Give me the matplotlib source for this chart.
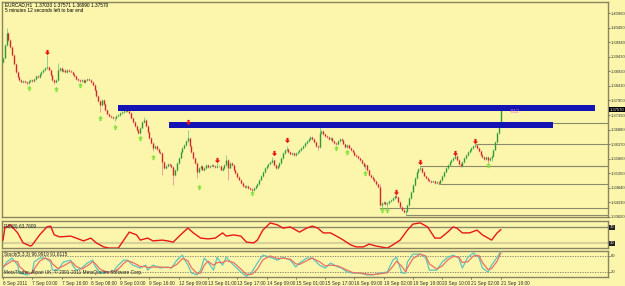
import matplotlib
matplotlib.use('Agg')
import matplotlib.pyplot as plt
import matplotlib.transforms as mtransforms
from matplotlib.path import Path
import numpy as np

# ---------------- data ----------------
first_open = 1.3925
closes = [
    1.3939, 1.3984, 1.4026, 1.4002, 1.3977, 1.3949, 1.3918, 1.3890, 1.3872, 1.3862,
    1.3855, 1.3858, 1.3855, 1.3851, 1.3858, 1.3862, 1.3858, 1.3865, 1.3876, 1.3872,
    1.3883, 1.3890, 1.3897, 1.3904, 1.3907, 1.3897, 1.3879, 1.3862, 1.3855, 1.3862,
    1.3897, 1.3904, 1.3893, 1.3897, 1.3890, 1.3897, 1.3893, 1.3890, 1.3883, 1.3876,
    1.3865, 1.3862, 1.3858, 1.3862, 1.3855, 1.3862, 1.3865, 1.3862, 1.3855, 1.3844,
    1.3827, 1.3806, 1.3788, 1.3774, 1.3792, 1.3778, 1.3757, 1.3743, 1.3736, 1.3732,
    1.3729, 1.3729, 1.3736, 1.3739, 1.3746, 1.3750, 1.3753, 1.3757, 1.3753, 1.3746,
    1.3729, 1.3715, 1.3701, 1.3687, 1.3676, 1.3694, 1.3715, 1.3722, 1.3701, 1.3680,
    1.3659, 1.3641, 1.3624, 1.3631, 1.3620, 1.3610, 1.3606, 1.3575, 1.3554, 1.3561,
    1.3568, 1.3564, 1.3557, 1.3529, 1.3547, 1.3571, 1.3589, 1.3610, 1.3624, 1.3634,
    1.3648, 1.3659, 1.3631, 1.3610, 1.3589, 1.3571, 1.3540, 1.3554, 1.3561, 1.3547,
    1.3554, 1.3564, 1.3557, 1.3561, 1.3564, 1.3561, 1.3557, 1.3561, 1.3561, 1.3547,
    1.3554, 1.3564, 1.3582, 1.3554, 1.3571, 1.3564, 1.3547, 1.3536, 1.3522, 1.3512,
    1.3501, 1.3491, 1.3487, 1.3491, 1.3484, 1.3480, 1.3477, 1.3484, 1.3491, 1.3498,
    1.3512, 1.3526, 1.3540, 1.3554, 1.3561, 1.3568, 1.3575, 1.3582, 1.3564, 1.3554,
    1.3561, 1.3571, 1.3589, 1.3606, 1.3617, 1.3620, 1.3610, 1.3603, 1.3606, 1.3599,
    1.3606, 1.3610, 1.3617, 1.3624, 1.3631, 1.3641, 1.3648, 1.3655, 1.3662, 1.3655,
    1.3645, 1.3631, 1.3627, 1.3676, 1.3683, 1.3673, 1.3666, 1.3662, 1.3655, 1.3659,
    1.3648, 1.3641, 1.3638, 1.3648, 1.3655, 1.3652, 1.3638, 1.3627, 1.3634, 1.3624,
    1.3617, 1.3610, 1.3599, 1.3596, 1.3589, 1.3582, 1.3571, 1.3561, 1.3564, 1.3547,
    1.3529, 1.3522, 1.3515, 1.3508, 1.3498, 1.3487, 1.3424, 1.3431, 1.3435, 1.3428,
    1.3431, 1.3438, 1.3442, 1.3449, 1.3456, 1.3452, 1.3435, 1.3417, 1.3407, 1.3400,
    1.3403, 1.3424, 1.3449, 1.3470, 1.3494, 1.3519, 1.3540, 1.3550, 1.3554, 1.3540,
    1.3526, 1.3519, 1.3512, 1.3508, 1.3505, 1.3508, 1.3501, 1.3505, 1.3501, 1.3512,
    1.3526, 1.3540, 1.3554, 1.3564, 1.3575, 1.3582, 1.3589, 1.3596, 1.3582, 1.3568,
    1.3561, 1.3575, 1.3589, 1.3599, 1.3610, 1.3617, 1.3624, 1.3631, 1.3634, 1.3624,
    1.3613, 1.3599, 1.3592, 1.3585, 1.3592, 1.3582, 1.3589, 1.3596, 1.3617, 1.3645,
    1.3676, 1.3704, 1.3757,
]
# wick lengths in pips above body top / below body bottom
upper_wick = [
    3, 4, 17, 3, 2, 3, 4, 2, 3, 3, 4, 3, 2, 4, 3, 3, 4, 2, 3, 4,
    3, 2, 4, 3, 42, 3, 2, 3, 4, 3, 25, 3, 4, 2, 3, 4, 3, 2, 3, 3,
    4, 2, 3, 3, 4, 2, 3, 4, 3, 2, 3, 4, 3, 2, 4, 3, 3, 2, 4, 3,
    3, 4, 2, 3, 3, 4, 3, 2, 3, 4, 3, 3, 2, 4, 3, 3, 4, 10, 3, 2,
    3, 4, 3, 2, 3, 4, 3, 3, 4, 2, 3, 4, 3, 3, 2, 4, 3, 3, 4, 3,
    2, 28, 3, 4, 3, 2, 3, 4, 3, 3, 4, 2, 3, 4, 3, 3, 2, 10, 3, 4,
    3, 2, 18, 4, 3, 3, 2, 4, 3, 3, 4, 2, 3, 3, 4, 3, 2, 3, 4, 3,
    3, 4, 2, 3, 3, 4, 3, 10, 3, 2, 4, 3, 3, 4, 2, 10, 3, 4, 3, 2,
    3, 4, 3, 3, 2, 4, 3, 3, 4, 2, 3, 4, 3, 35, 3, 2, 4, 3, 3, 4,
    2, 3, 4, 3, 3, 2, 4, 3, 3, 4, 2, 3, 3, 4, 3, 2, 3, 4, 3, 3,
    4, 2, 3, 3, 4, 3, 10, 3, 4, 2, 3, 3, 4, 3, 2, 8, 3, 4, 3, 3,
    2, 4, 3, 3, 4, 2, 3, 3, 6, 4, 3, 2, 3, 4, 3, 3, 2, 4, 3, 3,
    4, 3, 2, 3, 3, 4, 3, 5, 3, 2, 4, 3, 3, 4, 2, 3, 3, 4, 6, 3,
    3, 2, 4, 3, 3, 4, 2, 3, 3, 4, 3, 3, 1,
]
lower_wick = [
    3, 2, 3, 4, 3, 3, 2, 4, 3, 3, 2, 4, 3, 8, 3, 2, 3, 4, 3, 3,
    2, 3, 4, 3, 3, 2, 4, 3, 7, 3, 3, 4, 2, 3, 3, 4, 3, 2, 3, 4,
    3, 3, 5, 2, 4, 3, 3, 2, 4, 3, 3, 4, 2, 25, 3, 3, 4, 2, 3, 3,
    4, 10, 3, 2, 3, 4, 3, 3, 2, 4, 3, 3, 4, 3, 5, 3, 2, 4, 3, 3,
    4, 2, 10, 3, 3, 4, 2, 45, 3, 4, 3, 3, 2, 35, 3, 4, 3, 2, 3, 3,
    4, 3, 2, 3, 4, 3, 21, 3, 3, 2, 4, 3, 3, 4, 2, 3, 3, 4, 3, 2,
    3, 4, 3, 42, 2, 3, 4, 3, 3, 2, 4, 3, 3, 4, 3, 2, 10, 3, 4, 3,
    3, 2, 4, 3, 3, 4, 2, 3, 3, 4, 3, 3, 2, 4, 3, 3, 4, 2, 3, 3,
    4, 3, 2, 3, 3, 4, 3, 2, 4, 3, 3, 4, 10, 3, 2, 3, 4, 3, 3, 2,
    4, 3, 5, 3, 3, 4, 2, 5, 3, 3, 4, 2, 3, 3, 4, 3, 2, 3, 10, 3,
    3, 4, 2, 3, 3, 4, 3, 10, 3, 4, 10, 3, 2, 3, 4, 3, 3, 2, 4, 3,
    10, 3, 4, 3, 2, 3, 3, 4, 3, 3, 2, 4, 3, 3, 4, 2, 3, 3, 4, 3,
    3, 4, 2, 3, 3, 4, 3, 3, 2, 4, 3, 3, 4, 3, 2, 3, 3, 4, 3, 3,
    2, 4, 3, 3, 4, 10, 3, 12, 3, 2, 4, 3, 5,
]

# fractal arrows (bar index, price)
up_fractal_idx = [24, 101, 117, 148, 155, 215, 228, 247, 258]
up_fractal_px = [1.3960, 1.3716, 1.3582, 1.3606, 1.3651, 1.3470, 1.3574, 1.3606, 1.3648]
dn_fractal_idx = [14, 29, 42, 53, 61, 75, 82, 107, 136, 182, 188, 198, 207, 210, 265]
dn_fractal_px = [1.3834, 1.3830, 1.3844, 1.3729, 1.3697, 1.3658, 1.3592, 1.3487, 1.3467,
                 1.3624, 1.3610, 1.3536, 1.3406, 1.3406, 1.3564]

# support / resistance levels (start bar, price)
level_start = [101, 206, 220, 228, 238, 258, 267]
level_price = [1.3711, 1.34135, 1.3389, 1.3561, 1.34975, 1.36375, 1.3561]

# blue zones (start bar, end bar, low, high)
zone_start = [62.8, 90.7]
zone_end = [323.5, 300.5]
zone_low = [1.3753, 1.36935]
zone_high = [1.3774, 1.37145]

price_ticks = [1.33820, 1.34330, 1.34840, 1.35350, 1.35860, 1.36370, 1.36880, 1.37390,
               1.37900, 1.38410, 1.38920, 1.39430, 1.39940, 1.40450, 1.40960]
last_price = 1.37570

date_labels = ['6 Sep 2011', '7 Sep 00:00', '7 Sep 16:00', '8 Sep 08:00', '9 Sep 00:00',
               '9 Sep 16:00', '12 Sep 09:00', '13 Sep 01:00', '13 Sep 17:00', '14 Sep 09:00',
               '15 Sep 01:00', '15 Sep 17:00', '16 Sep 09:00', '19 Sep 02:00', '19 Sep 18:00',
               '20 Sep 10:00', '21 Sep 02:00', '21 Sep 18:00']
date_bar = [0, 16, 32, 48, 64, 80, 96, 112, 128, 144, 160, 176, 192, 208, 224, 240, 256, 272]

rsi_idx = [0, 1, 4, 8, 11, 15, 16, 20, 24, 26, 28, 31, 37, 40, 44, 48, 51, 55, 58, 63,
           66, 69, 73, 75, 79, 82, 87, 90, 93, 97, 101, 104, 108, 112, 116, 120, 122, 126, 130, 133,
           137, 139, 142, 146, 150, 153, 157, 162, 166, 169, 172, 175, 179, 183, 186, 190, 193, 197, 200, 204,
           210, 213, 217, 221, 224, 228, 232, 236, 239, 243, 246, 248, 251, 255, 259, 262, 267, 270, 272]
rsi_val = [38, 68, 76, 56, 31, 23, 26, 51, 71, 73, 51, 46, 48, 43, 36, 43, 31, 21, 18, 18,
           38, 58, 51, 38, 43, 36, 38, 36, 33, 51, 68, 56, 43, 41, 43, 56, 48, 51, 48, 33,
           31, 38, 63, 81, 76, 68, 71, 58, 68, 73, 68, 56, 56, 46, 38, 26, 21, 21, 28, 23,
           18, 26, 38, 63, 78, 81, 71, 43, 43, 58, 71, 68, 56, 56, 63, 51, 38, 56, 64]

sto_idx = [0, 2, 5, 8, 9, 13, 16, 17, 20, 23, 26, 27, 30, 33, 37, 38, 40, 43, 46, 49,
           50, 53, 57, 60, 63, 66, 68, 71, 75, 78, 79, 82, 86, 90, 92, 95, 98, 101, 103, 106,
           108, 110, 112, 115, 117, 120, 122, 126, 130, 133, 136, 139, 142, 146, 150, 153, 157, 160, 162, 166,
           169, 173, 176, 179, 183, 185, 188, 191, 195, 199, 202, 206, 210, 213, 215, 218, 220, 221, 224, 228,
           231, 233, 237, 240, 243, 246, 249, 251, 254, 257, 260, 262, 265, 267, 270, 272]
sto_main = [34, 57, 72, 45, 15, 8, 19, 57, 72, 72, 57, 26, 26, 57, 64, 45, 26, 34, 53, 64,
            45, 15, 19, 19, 45, 64, 64, 45, 34, 45, 26, 45, 34, 38, 34, 64, 83, 45, 15, 8,
            26, 72, 57, 26, 75, 45, 75, 45, 19, 2, 19, 53, 83, 75, 64, 75, 64, 38, 53, 72,
            72, 45, 34, 53, 38, 34, 19, 15, 15, 8, 8, 15, 19, 64, 75, 15, 15, 57, 87, 87,
            72, 26, 26, 57, 75, 83, 72, 34, 75, 91, 75, 34, 19, 45, 75, 97]
sto_signal = [40, 48, 62, 58, 40, 15, 14, 30, 60, 72, 64, 50, 32, 42, 58, 55, 40, 30, 42, 58,
              54, 30, 18, 19, 30, 52, 62, 55, 40, 40, 36, 38, 38, 36, 36, 48, 70, 62, 35, 14,
              15, 45, 60, 45, 55, 55, 62, 55, 30, 10, 10, 30, 65, 80, 70, 72, 68, 50, 48, 62,
              72, 58, 42, 45, 42, 36, 26, 17, 15, 11, 9, 12, 16, 40, 60, 40, 20, 35, 70, 87,
              80, 50, 30, 42, 65, 78, 77, 55, 58, 80, 82, 55, 28, 32, 60, 92]

# ---------------- style ----------------
W, H = 625, 286
BG = '#fbf6ac'
FRAME = '#8a8462'
BULL = '#2f9a2f'
BULL_W = '#8ed08e'
BEAR = '#d02828'
BEAR_W = '#eea0a0'
FS = 3.4
FS_R = 3.0
plt.rcParams['font.family'] = ['Liberation Sans Narrow', 'Liberation Sans', 'DejaVu Sans']

fig = plt.figure(figsize=(W / 100, H / 100), dpi=100, facecolor=BG)


def rect(x0, y0, x1, y1):
    return [x0 / W, 1 - y1 / H, (x1 - x0) / W, (y1 - y0) / H]


BAR_PX = 1.83
X0 = -0.55
X1 = X0 + 606 / BAR_PX

ax = fig.add_axes(rect(2, 2, 608, 217), facecolor=BG)
ax_rsi = fig.add_axes(rect(2, 220.7, 608, 248.3), facecolor=BG)
ax_sto = fig.add_axes(rect(2, 250.7, 608, 277), facecolor=BG)

for a in (ax, ax_rsi, ax_sto):
    a.set_xlim(X0, X1)
    for s in a.spines.values():
        s.set_color(FRAME)
        s.set_linewidth(1.0)
    a.tick_params(axis='y', colors='#333333', labelsize=FS_R, length=1.2, width=0.5, pad=0.5)
    a.set_xticks([])

# ---------- main price chart ----------
ax.set_ylim(1.33820, 1.41345)
n = len(closes)
idx = np.arange(n)
c = np.array(closes)
o = np.array([first_open] + closes[:-1])
top = np.maximum(o, c)
bot = np.minimum(o, c)
hi = top + np.array(upper_wick) * 0.0001
lo = bot - np.array(lower_wick) * 0.0001
up = c >= o

# blue zones
for xs, xe, yl, yh in zip(zone_start, zone_end, zone_low, zone_high):
    ax.fill_between([xs, xe], yl, yh, color='#1414b4', lw=0, zorder=4)

# levels
for xs, p in zip(level_start, level_price):
    ax.plot([xs, X1], [p, p], color='#8c8a6c', lw=0.8, zorder=2)

ax.vlines(idx[up], lo[up], hi[up], colors=BULL_W, lw=0.7, zorder=3)
ax.vlines(idx[~up], lo[~up], hi[~up], colors=BEAR_W, lw=0.7, zorder=3)
body_top = np.maximum(top, bot + 0.00012)
ax.vlines(idx[up], bot[up], body_top[up], colors=BULL, lw=1.0, zorder=3)
ax.vlines(idx[~up], bot[~up], body_top[~up], colors=BEAR, lw=1.0, zorder=3)

down_arrow = Path([(-0.2, 0.5), (0.2, 0.5), (0.2, 0.0), (0.5, 0.0), (0.0, -0.5),
                   (-0.5, 0.0), (-0.2, 0.0), (-0.2, 0.5)],
                  [Path.MOVETO] + [Path.LINETO] * 6 + [Path.CLOSEPOLY])
up_arrow = Path([(-0.2, -0.5), (0.2, -0.5), (0.2, 0.0), (0.5, 0.0), (0.0, 0.5),
                 (-0.5, 0.0), (-0.2, 0.0), (-0.2, -0.5)],
                [Path.MOVETO] + [Path.LINETO] * 6 + [Path.CLOSEPOLY])
ax.scatter(up_fractal_idx, up_fractal_px, marker=down_arrow, s=14, color='#e81010', lw=0, zorder=5)
ax.scatter(dn_fractal_idx, dn_fractal_px, marker=up_arrow, s=14, color='#86e23c', lw=0, zorder=5)

ax.yaxis.tick_right()
ax.set_yticks(price_ticks)
ax.set_yticklabels([f'{p:.5f}' for p in price_ticks])

btrans = mtransforms.blended_transform_factory(ax.transAxes, ax.transData)
ax.text(1.0025, last_price, f'{last_price:.5f}', transform=btrans, fontsize=FS_R, color='white',
        va='center', ha='left', zorder=6,
        bbox=dict(boxstyle='square,pad=0.1', fc='black', ec='black', lw=0))
ax.text(277, 1.3751, '-812', fontsize=FS, color='#e070e0', va='center', ha='left', zorder=6)

fig.text(5 / W, 1 - 5 / H, 'EURCAD,H1  1.37033 1.37571 1.36990 1.37570', fontsize=FS,
         color='black', va='center', ha='left')
fig.text(5 / W, 1 - 10.5 / H, '5 minutes 12 seconds left to bar end', fontsize=FS,
         color='black', va='center', ha='left')

# ---------- RSI ----------
ax_rsi.set_ylim(17.5, 86.5)
ax_rsi.axhline(70, color='#8c8a6c', lw=1.0, zorder=1)
ax_rsi.axhline(30, color='#d8d29a', lw=1.6, zorder=1)
ax_rsi.plot(rsi_idx, rsi_val, color='#e81818', lw=1.0, zorder=3)
ax_rsi.yaxis.tick_right()
ax_rsi.set_yticks([70, 30])
ax_rsi.set_yticklabels([])
rtrans = mtransforms.blended_transform_factory(ax_rsi.transAxes, ax_rsi.transData)
for lv in (70, 30):
    ax_rsi.text(1.0025, lv, str(lv), transform=rtrans, fontsize=FS_R, color='white',
                va='center', ha='left', zorder=6,
                bbox=dict(boxstyle='square,pad=0.15', fc='#222222', ec='#222222', lw=0))
ax_rsi.text(0.004, 0.78, 'RSI(8) 63.7609', transform=ax_rsi.transAxes, fontsize=FS,
            color='#222222', va='center', ha='left')

# ---------- Stochastic ----------
ax_sto.set_ylim(0, 100)
for lv in (80, 20):
    ax_sto.axhline(lv, color='#777766', lw=0.6, ls=(0, (1.5, 1.5)), zorder=1)
ax_sto.plot(sto_idx, sto_main, color='#5cc6c0', lw=0.9, zorder=3)
ax_sto.plot(sto_idx, sto_signal, color='#ec7060', lw=0.9, zorder=3)
ax_sto.yaxis.tick_right()
ax_sto.set_yticks([80, 20])
ax_sto.set_yticklabels(['80', '20'])
ax_sto.text(0.004, 0.86, 'Stoch(5,3,3) 96.9919 91.6115', transform=ax_sto.transAxes,
            fontsize=FS, color='#222222', va='center', ha='left')
ax_sto.text(0.004, 0.2, 'MetaTrader, Alpari UK, \u00a9 2001-2011 MetaQuotes Software Corp.',
            transform=ax_sto.transAxes, fontsize=FS, color='#222222', va='center', ha='left')

ax_sto.set_xticks(date_bar)
ax_sto.set_xticklabels(date_labels, ha='left')
ax_sto.tick_params(axis='x', colors='#333333', labelsize=FS, length=1.5, width=0.5, pad=1.2)

fig.savefig('out.png', dpi=100, facecolor=BG)
